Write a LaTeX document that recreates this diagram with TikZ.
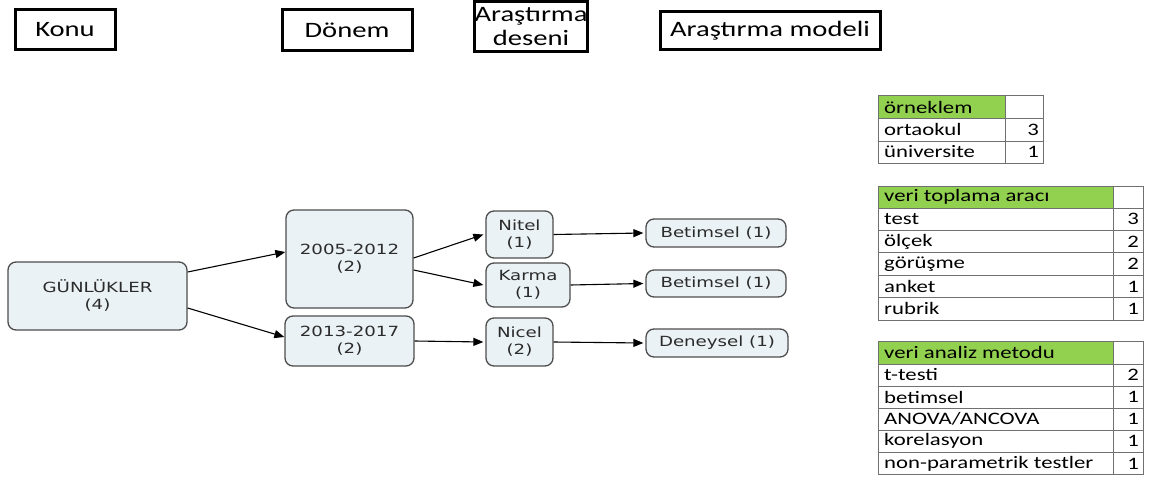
\documentclass[tikz,border=0pt]{standalone}
\usepackage{fontspec}
\setmainfont{Carlito}
\newfontfamily\verdfont{DejaVu Sans}
\usepackage{graphicx}
\usetikzlibrary{arrows.meta,positioning}

\definecolor{boxfill}{HTML}{EBF2F5}
\definecolor{boxline}{HTML}{4D4D4D}
\definecolor{boxtext}{HTML}{2B2B2B}
\definecolor{hdrgreen}{HTML}{92D050}
\definecolor{tabline}{HTML}{707070}
\newcommand{\sx}[1]{\scalebox{1.3}[1]{#1}}

\tikzset{
  headbox/.style={draw,line width=3pt,fill=white,inner sep=0pt,align=center,font=\fontsize{22}{24}\selectfont},
  entry/.style={draw=boxline,fill=boxfill,rounded corners=8pt,line width=1.3pt,text=boxtext,align=center,inner sep=0pt,font=\verdfont\fontsize{14}{17}\selectfont},
  link/.style={-{Triangle[length=10pt,width=8pt]},line width=1.1pt},
  cell/.style={anchor=west,inner sep=0pt,font=\fontsize{17.5}{20}\selectfont},
  num/.style={anchor=east,inner sep=0pt,font=\fontsize{17.5}{20}\selectfont},
  tabgrid/.style={draw=tabline,line width=1pt}
}

\begin{document}
\begin{tikzpicture}[x=1pt,y=-1pt]
\useasboundingbox (0,0) rectangle (1155,476);
% column titles
\node[headbox,minimum width=100pt,minimum height=40pt] (konu) at (65,30) {\sx{Konu}};
\node[headbox,minimum width=130pt,minimum height=41pt] (donem) at (347,30.5) {\sx{Dönem}};
\node[headbox,minimum width=106pt,minimum height=50pt] (desen) at (531,27) {\sx{Araştırma}\\\sx{deseni}};
\node[headbox,minimum width=220pt,minimum height=38pt] (model) at (770,31) {\sx{Araştırma modeli}};

% tree
\node[entry,minimum width=179pt,minimum height=68pt] (gun) at (97.5,296) {\sx{GÜNLÜKLER}\\\sx{(4)}};
\node[entry,minimum width=127pt,minimum height=98pt] (p1) at (349.5,259) {\sx{2005-2012}\\\sx{(2)}};
\node[entry,minimum width=129pt,minimum height=50pt] (p2) at (349.5,341) {\sx{2013-2017}\\\sx{(2)}};
\node[entry,minimum width=67pt,minimum height=47pt] (nitel) at (519.5,234.5) {\sx{Nitel}\\\sx{(1)}};
\node[entry,minimum width=84pt,minimum height=44pt] (karma) at (528,285) {\sx{Karma}\\\sx{(1)}};
\node[entry,minimum width=67pt,minimum height=48pt] (nicel) at (519.5,342) {\sx{Nicel}\\\sx{(2)}};
\node[entry,minimum width=140pt,minimum height=28pt] (m1) at (716,233) {\sx{Betimsel (1)}};
\node[entry,minimum width=140pt,minimum height=27pt] (m2) at (716,283.5) {\sx{Betimsel (1)}};
\node[entry,minimum width=142pt,minimum height=28pt] (m3) at (717,343) {\sx{Deneysel (1)}};

\draw[link] ([yshift=24pt]gun.east) -- ([yshift=7pt]p1.west);
\draw[link] ([yshift=-12pt]gun.east) -- ([yshift=4pt]p2.west);
\draw[link] ([yshift=1pt]p1.east) -- ([xshift=-2pt]nitel.west);
\draw[link] ([yshift=-11pt]p1.east) -- ([xshift=-2pt]karma.west);
\draw[link] (p2.east) -- ([xshift=-2pt]nicel.west);
\draw[link] (nitel.east) -- ([xshift=-2pt]m1.west);
\draw[link] (karma.east) -- ([xshift=-2pt]m2.west);
\draw[link] (nicel.east) -- ([xshift=-2pt]m3.west);

% tables
\fill[hdrgreen] (878,96) rectangle (1005,118);
\draw[tabgrid] (878,96) rectangle (1043,163) (1005,96) -- (1005,163)
  (878,118) -- (1043,118) (878,141) -- (1043,141);
\node[cell] (s0) at (884,107) {\sx{örneklem}};
\node[cell] (s1) at (884,129.5) {\sx{ortaokul}};
\node[num] (s1n) at (1039,129.5) {\sx{3}};
\node[cell] (s2) at (884,152) {\sx{üniversite}};
\node[num] (s2n) at (1039,152) {\sx{1}};

\fill[hdrgreen] (878,186) rectangle (1113,208);
\draw[tabgrid] (878,186) rectangle (1143,320) (1113,186) -- (1113,320);
\node[cell] (v0) at (884,197) {\sx{veri toplama aracı}};
\foreach \t/\n [count=\i] in {test/3,ölçek/2,görüşme/2,anket/1,rubrik/1} {
  \draw[tabgrid] (878,{208+22.4*(\i-1)}) -- (1143,{208+22.4*(\i-1)});
  \node[cell] (v\i) at (884,{219.2+22.4*(\i-1)}) {\sx{\t}};
  \node[num] (v\i n) at (1139,{219.2+22.4*(\i-1)}) {\sx{\n}};
}

\fill[hdrgreen] (878,341) rectangle (1113,364);
\draw[tabgrid] (878,341) rectangle (1143,474.5) (1113,341) -- (1113,474.5);
\node[cell] (a0) at (884,352.5) {\sx{veri analiz metodu}};
\foreach \t/\n [count=\i] in {t-testi/2,betimsel/1,{ANOVA/ANCOVA}/1,korelasyon/1,non-parametrik testler/1} {
  \draw[tabgrid] (878,{364+22.1*(\i-1)}) -- (1143,{364+22.1*(\i-1)});
  \node[cell] (a\i) at (884,{375+22.1*(\i-1)}) {\sx{\t}};
  \node[num] (a\i n) at (1139,{375+22.1*(\i-1)}) {\sx{\n}};
}
\end{tikzpicture}
\end{document}
